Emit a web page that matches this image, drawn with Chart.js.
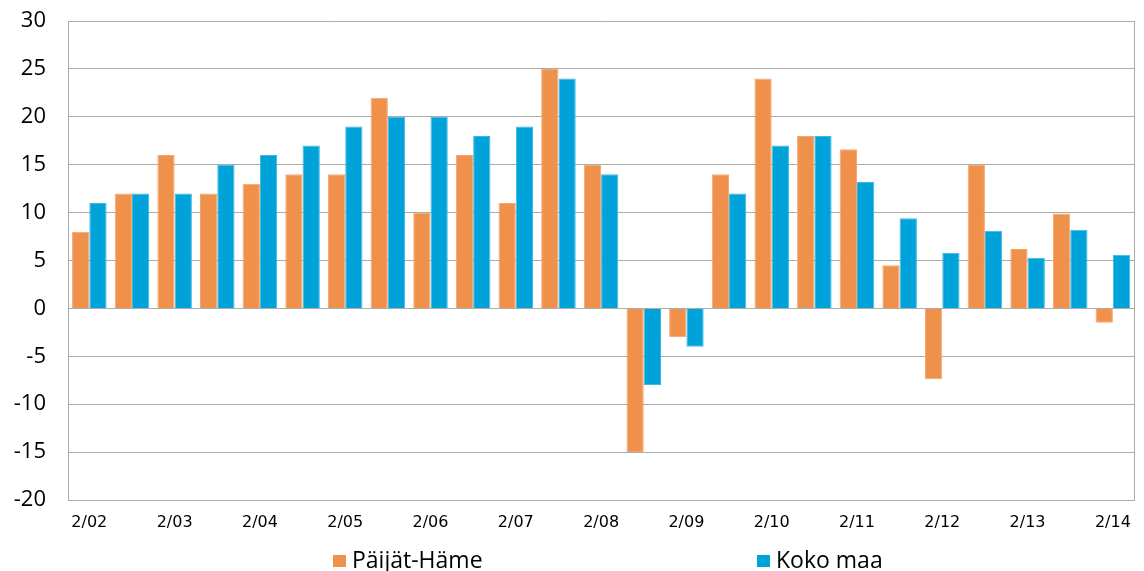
<!DOCTYPE html>
<html>
<head>
<meta charset="utf-8">
<script src="https://cdn.jsdelivr.net/npm/chart.js@4.4.1/dist/chart.umd.min.js"></script>
<style>
    body { margin: 0; background: #fff; overflow: hidden; }
    #wrap { position: relative; width: 1144px; height: 571px; overflow: hidden; }
    .legendBox { position: absolute; width: 13px; height: 12px; }
    .legendText {
        position: absolute;
        font-family: 'Open Sans', sans-serif;
        font-size: 23px;
        line-height: 30px;
        color: #000;
        white-space: nowrap;
    }
</style>
</head>
<body>
<div id="wrap">
    <canvas id="chart" width="1144" height="571"></canvas>
    <div id="legend"></div>
</div>
<script>
'use strict';

const categories = [
    '2/02', '', '2/03', '', '2/04', '', '2/05', '', '2/06', '', '2/07', '', '2/08', '',
    '2/09', '', '2/10', '', '2/11', '', '2/12', '', '2/13', '', '2/14'
];
const seriesNames = ['Päijät-Häme', 'Koko maa'];
const seriesColors = ['#F0914B', '#00A3D9'];
const seriesBorders = ['#F3A670', '#3DB6E0'];
const paijatHame = [8, 12, 16, 12, 13, 14, 14, 22, 10, 16, 11, 25, 15, -15, -3, 14, 24, 18, 16.6, 4.5, -7.4, 15, 6.2, 9.9, -1.5];
const kokoMaa = [11, 12, 12, 15, 16, 17, 19, 20, 20, 18, 19, 24, 14, -8, -4, 12, 17, 18, 13.2, 9.4, 5.8, 8.1, 5.3, 8.2, 5.6];
const yMin = -20;
const yMax = 30;
const yStep = 5;

const gridColor = '#ABABAB';

// Excel style frame: draw the right edge of the plot area.
const rightBorder = {
    id: 'rightBorder',
    afterDraw(chart) {
        const a = chart.chartArea;
        const ctx = chart.ctx;
        ctx.save();
        ctx.strokeStyle = gridColor;
        ctx.lineWidth = 1;
        ctx.beginPath();
        ctx.moveTo(Math.round(a.right) + 0.5, a.top);
        ctx.lineTo(Math.round(a.right) + 0.5, a.bottom);
        ctx.stroke();
        ctx.restore();
    }
};

const chart = new Chart(document.getElementById('chart'), {
    type: 'bar',
    data: {
        labels: categories,
        datasets: [
            {
                label: seriesNames[0],
                data: paijatHame,
                backgroundColor: seriesColors[0],
                borderColor: seriesBorders[0],
                borderWidth: 1
            },
            {
                label: seriesNames[1],
                data: kokoMaa,
                backgroundColor: seriesColors[1],
                borderColor: seriesBorders[1],
                borderWidth: 1
            }
        ]
    },
    options: {
        responsive: false,
        animation: false,
        layout: { padding: { top: 21, right: 8, bottom: 0, left: 0 } },
        datasets: {
            bar: { categoryPercentage: 0.81, barPercentage: 1.0 }
        },
        scales: {
            x: {
                grid: { display: false, drawTicks: false },
                border: { color: gridColor },
                ticks: {
                    autoSkip: false,
                    maxRotation: 0,
                    padding: 13,
                    color: '#000',
                    font: { family: 'DejaVu Sans', size: 16 }
                },
                afterFit: (scale) => { scale.height = 71; }
            },
            y: {
                min: yMin,
                max: yMax,
                grid: { color: gridColor, drawTicks: false },
                border: { color: gridColor },
                ticks: {
                    stepSize: yStep,
                    padding: 22,
                    color: '#000',
                    font: { family: 'Open Sans', size: 22 }
                },
                afterFit: (scale) => {
                    // fixed plot area, the label overflow is covered by layout padding
                    scale.width = 68;
                    scale.paddingTop = 0;
                    scale.paddingBottom = 0;
                }
            }
        },
        plugins: {
            legend: { display: false },
            tooltip: { enabled: false }
        }
    },
    plugins: [rightBorder]
});

// Legend under the chart, spaced like the original.
const legendLeft = [333, 757];
const legend = document.getElementById('legend');
for (let i = 0; i < seriesNames.length; i++) {
    const box = document.createElement('div');
    box.className = 'legendBox';
    box.style.left = legendLeft[i] + 'px';
    box.style.top = '555px';
    box.style.background = seriesColors[i];
    legend.appendChild(box);

    const text = document.createElement('div');
    text.className = 'legendText';
    text.style.left = (legendLeft[i] + 19) + 'px';
    text.style.top = '544px';
    text.innerText = seriesNames[i];
    legend.appendChild(text);
}
</script>
</body>
</html>
